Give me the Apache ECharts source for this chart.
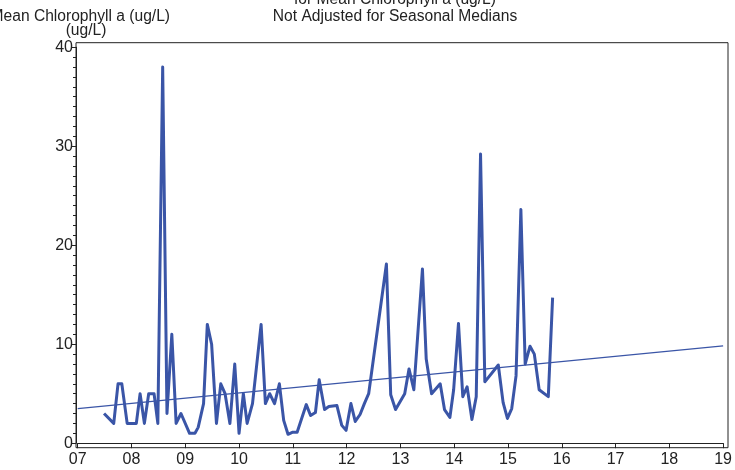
<!DOCTYPE html>
<html>
<head>
<meta charset="utf-8">
<script src="https://cdn.jsdelivr.net/npm/echarts@6/dist/echarts.min.js"></script>
<style>
  html, body { margin: 0; padding: 0; background: #fff; }
  #chart { width: 735px; height: 470px; }
</style>
</head>
<body>
<div id="chart"></div>
<script>
// Sample dates (decimal years since 2000) and mean chlorophyll a (ug/L)
const years = [
  7.49, 7.67, 7.75, 7.82, 7.92, 8.09, 8.16, 8.24, 8.32, 8.42,
  8.49, 8.58, 8.66, 8.75, 8.83, 8.92, 9.08, 9.18, 9.24, 9.34,
  9.41, 9.49, 9.58, 9.66, 9.74, 9.83, 9.92, 10.0, 10.08, 10.15,
  10.25, 10.41, 10.49, 10.57, 10.66, 10.75, 10.83, 10.91, 10.99, 11.08,
  11.25, 11.33, 11.42, 11.49, 11.59, 11.67, 11.82, 11.91, 11.99, 12.08,
  12.16, 12.25, 12.33, 12.41, 12.74, 12.82, 12.91, 13.08, 13.16, 13.25,
  13.41, 13.48, 13.58, 13.74, 13.82, 13.92, 13.99, 14.08, 14.16, 14.24,
  14.33, 14.41, 14.49, 14.57, 14.82, 14.91, 14.99, 15.07, 15.15, 15.24,
  15.32, 15.41, 15.49, 15.58, 15.75, 15.83
];
const chla = [
  3, 2, 6, 6, 2, 2, 5, 2, 5, 5,
  2, 38, 3, 11, 2, 3, 1, 1, 1.6, 4,
  12, 10, 2, 6, 5, 2, 8, 1, 5, 2,
  4, 12, 4, 5, 4, 6, 2.3, 0.9, 1.1, 1.1,
  3.9, 2.8, 3.1, 6.4, 3.4, 3.7, 3.8, 1.8, 1.3, 4,
  2.2, 2.9, 4, 5, 18.1, 4.9, 3.4, 5, 7.5, 5.4,
  17.6, 8.5, 5, 6, 3.4, 2.6, 5.4, 12.1, 4.7, 5.7,
  2.4, 4.7, 29.2, 6.2, 7.9, 4.1, 2.5, 3.5, 6.8, 23.6,
  8, 9.8, 9, 5.4, 4.7, 14.7
];
// Trend line end points
const trendX = [7, 19];
const trendY = [3.5, 9.84];

const titleLine1 = 'for Mean Chlorophyll a (ug/L)';
const titleLine2 = 'Not Adjusted for Seasonal Medians';
const yName1 = 'Mean Chlorophyll a (ug/L)';
const yName2 = '(ug/L)';

const lineColor = '#3A55A7';
const font = 'Liberation Sans, Arial, sans-serif';

const chart = echarts.init(document.getElementById('chart'));
chart.setOption({
  animation: false,
  backgroundColor: '#fff',
  grid: { left: 77.7, right: 8.3, top: 47.2, bottom: 26.8, containLabel: false },
  xAxis: {
    type: 'value', min: 7, max: 19, interval: 1, offset: 4.5,
    axisLine: { show: true, lineStyle: { color: '#222', width: 1 } },
    axisTick: { show: true, length: 5, lineStyle: { color: '#222' } },
    axisLabel: {
      color: '#222', fontSize: 16, fontFamily: font, margin: 4,
      formatter: v => (v < 10 ? '0' + v : '' + v)
    },
    splitLine: { show: false }
  },
  yAxis: {
    type: 'value', min: 0, max: 40, interval: 10, offset: 1.7,
    axisLine: { show: true, lineStyle: { color: '#222', width: 1 } },
    axisTick: { show: true, length: 5, lineStyle: { color: '#222' } },
    minorTick: { show: true, splitNumber: 10, length: 3, lineStyle: { color: '#222' } },
    axisLabel: { color: '#222', fontSize: 16, fontFamily: font, margin: 3 },
    splitLine: { show: false }
  },
  graphic: [
    { type: 'rect', shape: { x: 76, y: 42.7, width: 652, height: 405 },
      style: { fill: 'none', stroke: '#222', lineWidth: 1 }, silent: true, z: 10 },
    { type: 'text', x: 395, y: 0,
      style: { text: titleLine1, font: '15.6px ' + font, fill: '#222', textAlign: 'center', textVerticalAlign: 'middle' } },
    { type: 'text', x: 395, y: 17,
      style: { text: titleLine2, font: '15.6px ' + font, fill: '#222', textAlign: 'center', textVerticalAlign: 'middle' } },
    { type: 'text', x: 170, y: 17,
      style: { text: yName1, font: '15.6px ' + font, fill: '#222', textAlign: 'right', textVerticalAlign: 'middle' } },
    { type: 'text', x: 86, y: 31,
      style: { text: yName2, font: '15.6px ' + font, fill: '#222', textAlign: 'center', textVerticalAlign: 'middle' } }
  ],
  series: [
    {
      type: 'line',
      data: years.map((x, i) => [x, chla[i]]),
      symbol: 'none',
      lineStyle: { color: lineColor, width: 3, join: 'round' },
      z: 3
    },
    {
      type: 'line',
      data: trendX.map((x, i) => [x, trendY[i]]),
      symbol: 'none',
      lineStyle: { color: lineColor, width: 1.3 },
      z: 2
    }
  ]
});
</script>
</body>
</html>
